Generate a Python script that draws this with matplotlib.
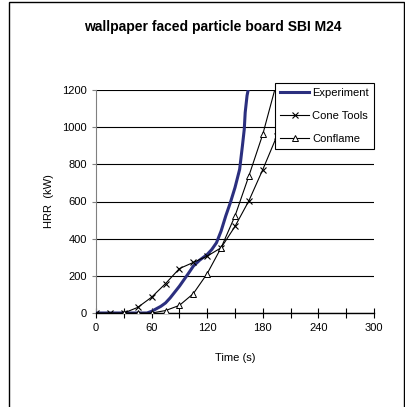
import matplotlib
matplotlib.use("Agg")
import matplotlib.pyplot as plt
from matplotlib.patches import Rectangle

plt.rcParams['font.family'] = ['Liberation Sans', 'DejaVu Sans']

# experiment (thick line)
exp_t = [0, 20, 40, 55, 60, 70, 75, 80, 90, 100, 105, 112, 120, 125, 130, 135,
         140, 145, 150, 155, 158, 160, 161, 163, 165]
exp_hrr = [0, 0, 0, 0, 9, 36, 54, 81, 144, 215, 252, 285, 315, 342, 378, 441,
           522, 594, 675, 773, 899, 989, 1079, 1170, 1220]

# Cone Tools (x markers)
cone_t = [0, 15, 30, 45, 60, 75, 90, 105, 120, 135, 150, 165, 180, 195, 210, 225]
cone_hrr = [0, 0, 0, 30, 85, 158, 239, 272, 306, 351, 466, 604, 772, 950, 1150, 1380]

# Conflame (triangles)
flame_t = [30, 45, 60, 75, 90, 105, 120, 135, 150, 165, 180, 195]
flame_hrr = [0, 0, 0, 13, 41, 104, 212, 351, 522, 738, 962, 1240]

fig = plt.figure(figsize=(4.05, 4.07), dpi=100)
ax = fig.add_axes([96/405, 1-313/407, 278/405, 223/407])

ax.plot(exp_t, exp_hrr, color='#2b2f7f', lw=2.2, label='Experiment', zorder=3)
ax.plot(cone_t, cone_hrr, color='black', lw=0.8, marker='x', ms=5, mew=0.8,
        label='Cone Tools', zorder=4)
ax.plot(flame_t, flame_hrr, color='black', lw=0.8, marker='^', ms=4.5, mew=0.7,
        mfc='white', label='Conflame', zorder=4)

ax.set_xlim(0, 300)
ax.set_ylim(0, 1200)
ax.set_xticks(range(0, 301, 60))
ax.set_xticks(range(0, 301, 30), minor=True)
ax.set_yticks(range(0, 1201, 200))
ax.tick_params(axis='x', which='both', direction='inout', length=7, width=0.8,
               labelsize=8, pad=4)
ax.tick_params(axis='y', direction='out', length=3, width=0.8, labelsize=8, color='gray')
ax.yaxis.grid(True, color='black', lw=0.8)
ax.set_axisbelow(True)
for s in ['top', 'right']:
    ax.spines[s].set_visible(False)
ax.spines['left'].set_color('gray')
ax.spines['bottom'].set_linewidth(1.0)

ax.set_xlabel('Time (s)', fontsize=8, labelpad=14)
ax.set_ylabel('HRR  (kW)', fontsize=8, labelpad=6)

leg = ax.legend(loc='upper right', bbox_to_anchor=(1.0, 1.03), fontsize=8,
                fancybox=False, edgecolor='black', framealpha=1,
                handlelength=2.6, borderpad=0.45, labelspacing=1.15,
                handletextpad=0.3, borderaxespad=0)
leg.get_frame().set_linewidth(0.8)

fig.text(213/405, 1-27/407, 'wallpaper faced particle board SBI M24',
         ha='center', va='center', fontsize=10, fontweight='bold')

fig.patches.append(Rectangle((9/405, -0.05), 395/405, 1.05 - 2/407,
                             transform=fig.transFigure, fill=False,
                             edgecolor='black', lw=1))

fig.savefig('out.png', dpi=100)
